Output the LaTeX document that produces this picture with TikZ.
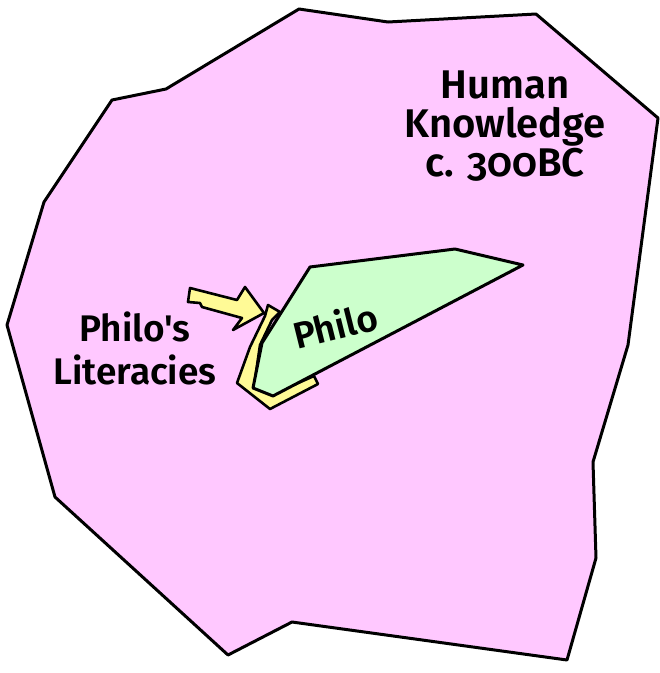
\documentclass[tikz,border=0pt]{standalone}
\usepackage{fontspec}
\setmainfont{Fira Sans}[Numbers=OldStyle,Ligatures=TeXOff,BoldFont={Fira Sans SemiBold}]
\begin{document}
\begin{tikzpicture}[x=1pt,y=-1pt,
  outline/.style={draw=black,line width=3pt,line join=round},
  label/.style={font=\bfseries\fontsize{37}{43}\selectfont,align=center,inner sep=0pt}]
\useasboundingbox (0,0) rectangle (660,673);
\definecolor{knowpink}{RGB}{255,200,255}
\definecolor{philogreen}{RGB}{204,255,204}
\definecolor{lityellow}{RGB}{255,250,150}
% Human knowledge region
\draw[outline,fill=knowpink] (299,9) -- (388,22) -- (536,14) -- (658,118) -- (628,345)
  -- (593,462) -- (596,558) -- (567,660) -- (292,622) -- (228,655) -- (55,497)
  -- (7,325) -- (44,202) -- (112,100) -- (166,89) -- cycle;
% arrow
\draw[outline,line width=2.6pt,fill=lityellow] (190,288) -- (237,300) -- (245,287) -- (264,313)
  -- (233,330) -- (242,318) -- (202,307) -- (200,303) -- (188,302) -- cycle;
% literacies band
\draw[outline,line width=2.6pt,fill=lityellow] (268,305) -- (280,312) -- (272,320) -- (260,345)
  -- (254,386) -- (273,394) -- (314,376) -- (318,384) -- (270,409) -- (237,383)
  -- (250,347) -- (265,316) -- cycle;
% Philo region
\draw[outline,fill=philogreen] (310,267) -- (455,249) -- (523,265) -- (273,396)
  -- (253,388) -- (262,343) -- cycle;
% texts
\node[label,font=\bfseries\fontsize{40}{39}\selectfont] (hk) at (505,126) {Human\\Knowledge\\c. 300BC};
\node[label] (lit) at (135,348) {Philo's\\Literacies};
\node[label,rotate=14] (philo) at (335,325) {Philo};
\end{tikzpicture}
\end{document}
